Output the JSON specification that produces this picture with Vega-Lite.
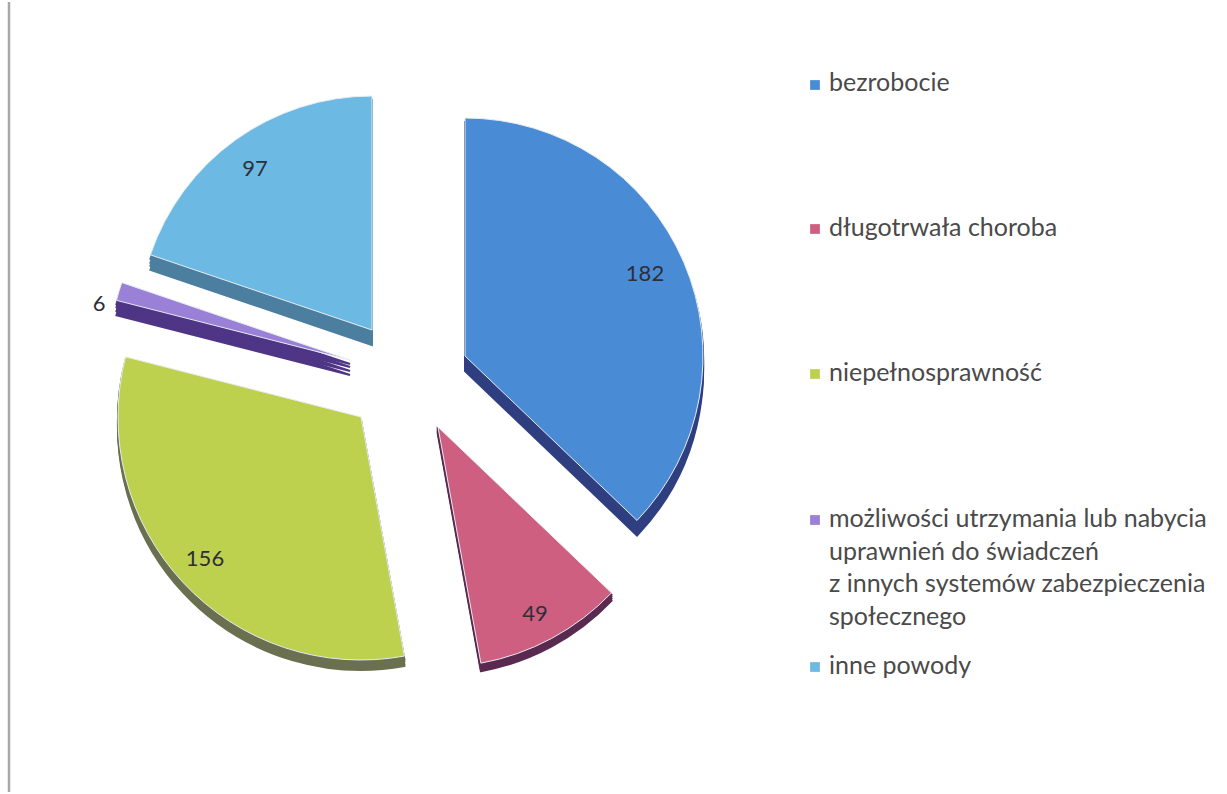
{
"$schema":"https://vega.github.io/schema/vega-lite/v6.json",
"width":1227,"height":794,
"autosize":{"type":"fit","contains":"padding"},
"padding":0,
"background":"#ffffff",
"view":{"stroke":null},
"config":{"axis":{"domain":false,"ticks":false,"labels":false,"grid":false,"title":null},"legend":{"disable":true},"font":"Lato"},
"datasets":{"powody":[
{"powod":"bezrobocie","etykieta":"bezrobocie","liczba":182},
{"powod":"długotrwała choroba","etykieta":"długotrwała choroba","liczba":49},
{"powod":"niepełnosprawność","etykieta":"niepełnosprawność","liczba":156},
{"powod":"możliwości utrzymania","etykieta":"możliwości utrzymania lub nabycia\nuprawnień do świadczeń\nz innych systemów zabezpieczenia\nspołecznego","liczba":6},
{"powod":"inne powody","etykieta":"inne powody","liczba":97}
]},
"data":{"name":"powody"},
"transform":[{"stack":"liczba","groupby":[],"as":["od","do"]}],
"resolve":{"scale":{"x":"independent","y":"independent","theta":"independent","radius":"independent","color":"independent","stroke":"independent"}},
"layer":[
{"transform":[{"filter":"datum.liczba==182"}],
 "mark":{"type":"rule","stroke":"#a8a8a8","strokeWidth":2.5},
 "encoding":{"x":{"field":"liczba","type":"quantitative","axis":null,"scale":{"domain":[6,182],"range":[9,9],"nice":false,"zero":false}}}},
{"mark":{"type":"arc","strokeWidth":2},
 "encoding":{
  "theta":{"field":"od","type":"quantitative","scale":{"domain":[0,490],"range":[0,6.28319]}},
  "theta2":{"field":"do"},
  "radius":{"field":"liczba","type":"quantitative","scale":{"type":"linear","domain":[6,49,97,156,182],"range":[241,240,234,243,238],"zero":false,"nice":false}},
  "radius2":{"value":0},
  "x":{"field":"liczba","type":"quantitative","axis":null,"scale":{"domain":[6,49,97,156,182],"range":[350,438,372,361,465],"nice":false,"zero":false}},
  "y":{"field":"liczba","type":"quantitative","axis":null,"scale":{"domain":[6,49,97,156,182],"range":[373,433,343,425,369],"nice":false,"zero":false}},
  "color":{"field":"powod","type":"nominal","legend":null,"scale":{"domain":["bezrobocie","długotrwała choroba","niepełnosprawność","możliwości utrzymania","inne powody"],"range":["#2f3f80","#5a2a50","#6a7050","#4f3585","#4c7f9f"]}},
  "stroke":{"field":"powod","type":"nominal","legend":null,"scale":{"domain":["bezrobocie","długotrwała choroba","niepełnosprawność","możliwości utrzymania","inne powody"],"range":["#2f3f80","#5a2a50","#6a7050","#4f3585","#4c7f9f"]}}
 }},
{"mark":{"type":"arc","strokeWidth":2},
 "encoding":{
  "theta":{"field":"od","type":"quantitative","scale":{"domain":[0,490],"range":[0,6.28319]}},
  "theta2":{"field":"do"},
  "radius":{"field":"liczba","type":"quantitative","scale":{"type":"linear","domain":[6,49,97,156,182],"range":[241,240,234,243,238],"zero":false,"nice":false}},
  "radius2":{"value":0},
  "x":{"field":"liczba","type":"quantitative","axis":null,"scale":{"domain":[6,49,97,156,182],"range":[350,438,372,361,465],"nice":false,"zero":false}},
  "y":{"field":"liczba","type":"quantitative","axis":null,"scale":{"domain":[6,49,97,156,182],"range":[369,431,339,423,365],"nice":false,"zero":false}},
  "color":{"field":"powod","type":"nominal","legend":null,"scale":{"domain":["bezrobocie","długotrwała choroba","niepełnosprawność","możliwości utrzymania","inne powody"],"range":["#2f3f80","#5a2a50","#6a7050","#4f3585","#4c7f9f"]}},
  "stroke":{"field":"powod","type":"nominal","legend":null,"scale":{"domain":["bezrobocie","długotrwała choroba","niepełnosprawność","możliwości utrzymania","inne powody"],"range":["#2f3f80","#5a2a50","#6a7050","#4f3585","#4c7f9f"]}}
 }},
{"mark":{"type":"arc","strokeWidth":2},
 "encoding":{
  "theta":{"field":"od","type":"quantitative","scale":{"domain":[0,490],"range":[0,6.28319]}},
  "theta2":{"field":"do"},
  "radius":{"field":"liczba","type":"quantitative","scale":{"type":"linear","domain":[6,49,97,156,182],"range":[241,240,234,243,238],"zero":false,"nice":false}},
  "radius2":{"value":0},
  "x":{"field":"liczba","type":"quantitative","axis":null,"scale":{"domain":[6,49,97,156,182],"range":[350,438,372,361,465],"nice":false,"zero":false}},
  "y":{"field":"liczba","type":"quantitative","axis":null,"scale":{"domain":[6,49,97,156,182],"range":[365,429,336,420,362],"nice":false,"zero":false}},
  "color":{"field":"powod","type":"nominal","legend":null,"scale":{"domain":["bezrobocie","długotrwała choroba","niepełnosprawność","możliwości utrzymania","inne powody"],"range":["#2f3f80","#5a2a50","#6a7050","#4f3585","#4c7f9f"]}},
  "stroke":{"field":"powod","type":"nominal","legend":null,"scale":{"domain":["bezrobocie","długotrwała choroba","niepełnosprawność","możliwości utrzymania","inne powody"],"range":["#2f3f80","#5a2a50","#6a7050","#4f3585","#4c7f9f"]}}
 }},
{"mark":{"type":"arc","strokeWidth":2},
 "encoding":{
  "theta":{"field":"od","type":"quantitative","scale":{"domain":[0,490],"range":[0,6.28319]}},
  "theta2":{"field":"do"},
  "radius":{"field":"liczba","type":"quantitative","scale":{"type":"linear","domain":[6,49,97,156,182],"range":[241,240,234,243,238],"zero":false,"nice":false}},
  "radius2":{"value":0},
  "x":{"field":"liczba","type":"quantitative","axis":null,"scale":{"domain":[6,49,97,156,182],"range":[350,438,372,361,465],"nice":false,"zero":false}},
  "y":{"field":"liczba","type":"quantitative","axis":null,"scale":{"domain":[6,49,97,156,182],"range":[362,427,332,418,358],"nice":false,"zero":false}},
  "color":{"field":"powod","type":"nominal","legend":null,"scale":{"domain":["bezrobocie","długotrwała choroba","niepełnosprawność","możliwości utrzymania","inne powody"],"range":["#2f3f80","#5a2a50","#6a7050","#4f3585","#4c7f9f"]}},
  "stroke":{"field":"powod","type":"nominal","legend":null,"scale":{"domain":["bezrobocie","długotrwała choroba","niepełnosprawność","możliwości utrzymania","inne powody"],"range":["#2f3f80","#5a2a50","#6a7050","#4f3585","#4c7f9f"]}}
 }},
{"mark":{"type":"arc","stroke":"#e6edf3","strokeWidth":1},
 "encoding":{
  "theta":{"field":"od","type":"quantitative","scale":{"domain":[0,490],"range":[0,6.28319]}},
  "theta2":{"field":"do"},
  "radius":{"field":"liczba","type":"quantitative","scale":{"type":"linear","domain":[6,49,97,156,182],"range":[241,240,234,243,238],"zero":false,"nice":false}},
  "radius2":{"value":0},
  "x":{"field":"liczba","type":"quantitative","axis":null,"scale":{"domain":[6,49,97,156,182],"range":[350,438,372,361,465],"nice":false,"zero":false}},
  "y":{"field":"liczba","type":"quantitative","axis":null,"scale":{"domain":[6,49,97,156,182],"range":[358,425,328,415,354],"nice":false,"zero":false}},
  "color":{"field":"powod","type":"nominal","legend":null,"scale":{"domain":["bezrobocie","długotrwała choroba","niepełnosprawność","możliwości utrzymania","inne powody"],"range":["#4a8bd6","#cf5f80","#bdd14f","#9a80d6","#6cb9e3"]}}
 }},
{"mark":{"type":"text","fontSize":22,"font":"Lato","color":"#2e2e38","align":"center","baseline":"middle"},
 "encoding":{
  "text":{"field":"liczba","type":"quantitative"},
  "x":{"field":"liczba","type":"quantitative","axis":null,"scale":{"domain":[6,49,97,156,182],"range":[99,535,255,205,645],"nice":false,"zero":false}},
  "y":{"field":"liczba","type":"quantitative","axis":null,"scale":{"domain":[6,49,97,156,182],"range":[302,612,167,557,272],"nice":false,"zero":false}}
 }},
{"mark":{"type":"square","filled":true,"size":95,"opacity":1},
 "encoding":{
  "x":{"field":"liczba","type":"quantitative","axis":null,"scale":{"domain":[6,182],"range":[815,815],"nice":false,"zero":false}},
  "y":{"field":"liczba","type":"quantitative","axis":null,"scale":{"domain":[6,49,97,156,182],"range":[518,227,665,372,83],"nice":false,"zero":false}},
  "color":{"field":"powod","type":"nominal","legend":null,"scale":{"domain":["bezrobocie","długotrwała choroba","niepełnosprawność","możliwości utrzymania","inne powody"],"range":["#4a8bd6","#cf5f80","#bdd14f","#9a80d6","#6cb9e3"]}}
 }},
{"mark":{"type":"text","fontSize":25,"font":"Lato","fontWeight":400,"color":"#4a4a4a","align":"left","baseline":"line-top","lineBreak":"\n","lineHeight":32.7},
 "encoding":{
  "text":{"field":"etykieta","type":"nominal"},
  "x":{"field":"liczba","type":"quantitative","axis":null,"scale":{"domain":[6,182],"range":[829,829],"nice":false,"zero":false}},
  "y":{"field":"liczba","type":"quantitative","axis":null,"scale":{"domain":[6,49,97,156,182],"range":[501,210,648,355,65],"nice":false,"zero":false}}
 }}
]
}
